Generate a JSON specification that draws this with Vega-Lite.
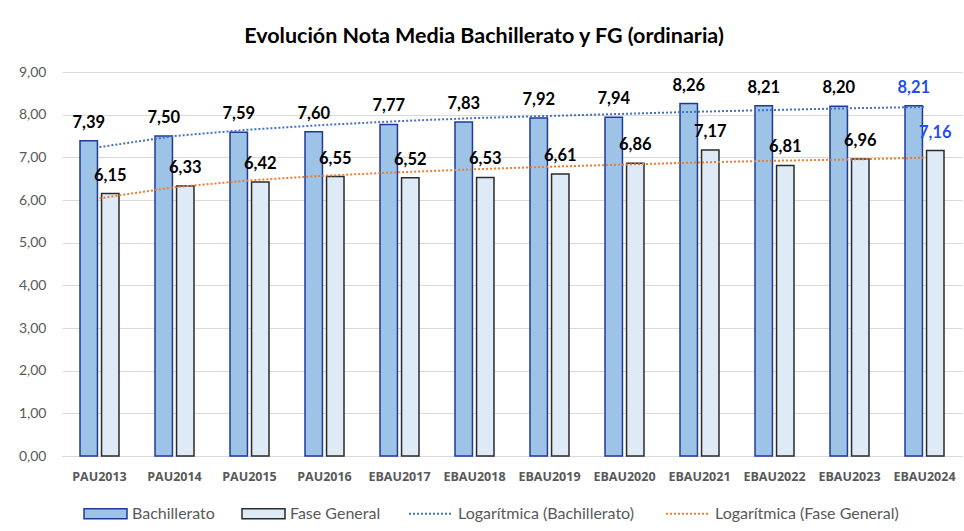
{
  "$schema": "https://vega.github.io/schema/vega-lite/v6.json",
  "width": 900,
  "height": 384,
  "autosize": {"type": "none"},
  "padding": {"left": 62, "top": 72, "right": 2, "bottom": 75},
  "background": "white",
  "config": {
    "locale": {"number": {"decimal": ",", "thousands": ".", "grouping": [3], "currency": ["", " €"]}},
    "view": {"stroke": null}
  },
  "title": {
    "text": "Evolución Nota Media Bachillerato y FG (ordinaria)",
    "font": "Lato",
    "fontSize": 21.5,
    "fontWeight": "bold",
    "color": "#000000",
    "anchor": "middle",
    "frame": "group",
    "dx": -28,
    "offset": 18
  },
  "datasets": {
    "barras": [
      {"anio": "PAU2013", "serie": "Bachillerato", "valor": 7.39},
      {"anio": "PAU2013", "serie": "Fase General", "valor": 6.15},
      {"anio": "PAU2014", "serie": "Bachillerato", "valor": 7.50},
      {"anio": "PAU2014", "serie": "Fase General", "valor": 6.33},
      {"anio": "PAU2015", "serie": "Bachillerato", "valor": 7.59},
      {"anio": "PAU2015", "serie": "Fase General", "valor": 6.42},
      {"anio": "PAU2016", "serie": "Bachillerato", "valor": 7.60},
      {"anio": "PAU2016", "serie": "Fase General", "valor": 6.55},
      {"anio": "EBAU2017", "serie": "Bachillerato", "valor": 7.77},
      {"anio": "EBAU2017", "serie": "Fase General", "valor": 6.52},
      {"anio": "EBAU2018", "serie": "Bachillerato", "valor": 7.83},
      {"anio": "EBAU2018", "serie": "Fase General", "valor": 6.53},
      {"anio": "EBAU2019", "serie": "Bachillerato", "valor": 7.92},
      {"anio": "EBAU2019", "serie": "Fase General", "valor": 6.61},
      {"anio": "EBAU2020", "serie": "Bachillerato", "valor": 7.94},
      {"anio": "EBAU2020", "serie": "Fase General", "valor": 6.86},
      {"anio": "EBAU2021", "serie": "Bachillerato", "valor": 8.26},
      {"anio": "EBAU2021", "serie": "Fase General", "valor": 7.17},
      {"anio": "EBAU2022", "serie": "Bachillerato", "valor": 8.21},
      {"anio": "EBAU2022", "serie": "Fase General", "valor": 6.81},
      {"anio": "EBAU2023", "serie": "Bachillerato", "valor": 8.20},
      {"anio": "EBAU2023", "serie": "Fase General", "valor": 6.96},
      {"anio": "EBAU2024", "serie": "Bachillerato", "valor": 8.21},
      {"anio": "EBAU2024", "serie": "Fase General", "valor": 7.16}
    ],
    "tendencia": [
      {"anio": "PAU2013", "serie": "Logarítmica (Bachillerato)", "valor": 7.24},
      {"anio": "PAU2014", "serie": "Logarítmica (Bachillerato)", "valor": 7.50},
      {"anio": "PAU2015", "serie": "Logarítmica (Bachillerato)", "valor": 7.65},
      {"anio": "PAU2016", "serie": "Logarítmica (Bachillerato)", "valor": 7.76},
      {"anio": "EBAU2017", "serie": "Logarítmica (Bachillerato)", "valor": 7.85},
      {"anio": "EBAU2018", "serie": "Logarítmica (Bachillerato)", "valor": 7.92},
      {"anio": "EBAU2019", "serie": "Logarítmica (Bachillerato)", "valor": 7.97},
      {"anio": "EBAU2020", "serie": "Logarítmica (Bachillerato)", "valor": 8.02},
      {"anio": "EBAU2021", "serie": "Logarítmica (Bachillerato)", "valor": 8.07},
      {"anio": "EBAU2022", "serie": "Logarítmica (Bachillerato)", "valor": 8.11},
      {"anio": "EBAU2023", "serie": "Logarítmica (Bachillerato)", "valor": 8.15},
      {"anio": "EBAU2024", "serie": "Logarítmica (Bachillerato)", "valor": 8.18},
      {"anio": "PAU2013", "serie": "Logarítmica (Fase General)", "valor": 6.04},
      {"anio": "PAU2014", "serie": "Logarítmica (Fase General)", "valor": 6.30},
      {"anio": "PAU2015", "serie": "Logarítmica (Fase General)", "valor": 6.46},
      {"anio": "PAU2016", "serie": "Logarítmica (Fase General)", "valor": 6.57},
      {"anio": "EBAU2017", "serie": "Logarítmica (Fase General)", "valor": 6.65},
      {"anio": "EBAU2018", "serie": "Logarítmica (Fase General)", "valor": 6.72},
      {"anio": "EBAU2019", "serie": "Logarítmica (Fase General)", "valor": 6.78},
      {"anio": "EBAU2020", "serie": "Logarítmica (Fase General)", "valor": 6.83},
      {"anio": "EBAU2021", "serie": "Logarítmica (Fase General)", "valor": 6.88},
      {"anio": "EBAU2022", "serie": "Logarítmica (Fase General)", "valor": 6.92},
      {"anio": "EBAU2023", "serie": "Logarítmica (Fase General)", "valor": 6.95},
      {"anio": "EBAU2024", "serie": "Logarítmica (Fase General)", "valor": 6.99}
    ]
  },
  "encoding": {
    "x": {
      "field": "anio",
      "type": "nominal",
      "sort": ["PAU2013", "PAU2014", "PAU2015", "PAU2016", "EBAU2017", "EBAU2018", "EBAU2019", "EBAU2020", "EBAU2021", "EBAU2022", "EBAU2023", "EBAU2024"],
      "scale": {"paddingInner": 0.48, "paddingOuter": 0.24},
      "axis": {
        "title": null,
        "labelAngle": 0,
        "labelFont": "Open Sans",
        "labelFontWeight": "bold",
        "labelFontSize": 12.5,
        "labelColor": "#595959",
        "labelPadding": 14,
        "ticks": false,
        "grid": false,
        "domainColor": "#D9D9D9",
        "domainWidth": 1
      }
    },
    "y": {
      "field": "valor",
      "type": "quantitative",
      "scale": {"domain": [0, 9], "nice": false, "zero": true},
      "axis": {
        "title": null,
        "values": [0, 1, 2, 3, 4, 5, 6, 7, 8, 9],
        "format": ".2f",
        "labelFont": "Lato",
        "labelFontSize": 14,
        "labelColor": "#595959",
        "labelPadding": 16,
        "ticks": false,
        "domain": false,
        "gridColor": "#D9D9D9",
        "gridWidth": 1
      }
    }
  },
  "layer": [
    {
      "data": {"name": "barras"},
      "mark": {"type": "bar", "strokeWidth": 1.5},
      "encoding": {
        "xOffset": {"field": "serie", "type": "nominal", "scale": {"domain": ["Bachillerato", "Fase General"], "paddingInner": 0.19}},
        "fill": {
          "field": "serie",
          "type": "nominal",
          "scale": {"domain": ["Bachillerato", "Fase General"], "range": ["#9DC3E6", "#DEEBF7"]},
          "legend": {
            "title": null,
            "orient": "none",
            "legendX": 21,
            "legendY": 419,
            "direction": "horizontal",
            "columns": 2,
            "columnPadding": 24,
            "symbolType": "M-1,-0.23H1V0.23H-1Z",
            "symbolSize": 1849,
            "symbolStrokeWidth": 1.5,
            "labelFont": "Lato",
            "labelFontSize": 16,
            "labelColor": "#595959",
            "labelOffset": 4,
            "labelLimit": 400
          }
        },
        "stroke": {
          "field": "serie",
          "type": "nominal",
          "scale": {"domain": ["Bachillerato", "Fase General"], "range": ["#203A9A", "#2B2B2B"]},
          "legend": {
            "title": null,
            "orient": "none",
            "legendX": 21,
            "legendY": 419,
            "direction": "horizontal",
            "columns": 2,
            "columnPadding": 24,
            "symbolType": "M-1,-0.23H1V0.23H-1Z",
            "symbolSize": 1849,
            "symbolStrokeWidth": 1.5,
            "labelFont": "Lato",
            "labelFontSize": 16,
            "labelColor": "#595959",
            "labelOffset": 4,
            "labelLimit": 400
          }
        }
      }
    },
    {
      "data": {"name": "tendencia"},
      "mark": {"type": "line", "strokeDash": [2, 2], "strokeWidth": 2, "strokeCap": "butt"},
      "encoding": {
        "color": {
          "field": "serie",
          "type": "nominal",
          "scale": {"domain": ["Logarítmica (Bachillerato)", "Logarítmica (Fase General)"], "range": ["#4472C4", "#ED7D31"]},
          "legend": {
            "title": null,
            "orient": "none",
            "legendX": 346,
            "legendY": 419,
            "direction": "horizontal",
            "columns": 2,
            "columnPadding": 28,
            "symbolType": "stroke",
            "symbolSize": 1849,
            "symbolStrokeWidth": 2,
            "symbolDash": [2, 2],
            "labelFont": "Lato",
            "labelFontSize": 16,
            "labelColor": "#595959",
            "labelOffset": 5,
            "labelLimit": 400
          }
        }
      }
    },
    {
      "data": {"name": "barras"},
      "mark": {"type": "text", "font": "Lato", "fontWeight": "bold", "fontSize": 16.5, "baseline": "alphabetic", "dy": -13},
      "encoding": {
        "xOffset": {"field": "serie", "type": "nominal"},
        "text": {"field": "valor", "type": "quantitative", "format": ".2f"},
        "color": {
          "condition": {"test": "datum.anio === 'EBAU2024'", "value": "#1F4EF5"},
          "value": "#000000"
        }
      }
    }
  ]
}
